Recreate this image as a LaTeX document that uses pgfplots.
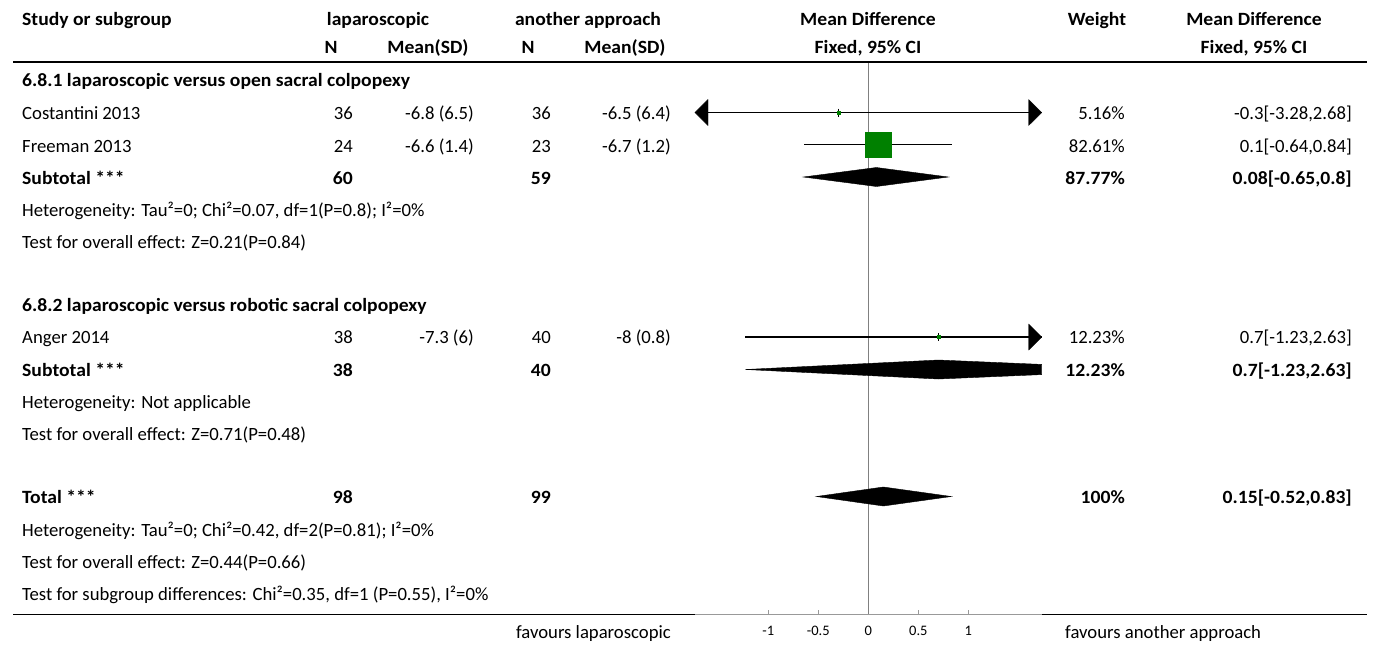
\documentclass[border=0pt]{standalone}
\usepackage{pgfplots}
\pgfplotsset{compat=1.18}
\usepackage{fontspec}
\setmainfont{Carlito}[BoldFeatures={FakeStretch=1.05}]
\definecolor{rmgreen}{RGB}{0,128,0}
\newcommand{\fs}{\fontsize{18.7}{22}\selectfont}
\protected\def\tfs{\fontsize{14.5}{17}\selectfont}
\tikzset{t/.style={font=\fs, inner sep=0pt, yshift=-4.3pt},
         b/.style={font=\fs\bfseries, inner sep=0pt, yshift=-4.3pt}}
\begin{document}
\begin{tikzpicture}
% ---------- canvas axis (pixel coordinates, y downward) ----------
\begin{axis}[name=canvas, at={(0pt,0pt)}, anchor=south west,
  scale only axis, width=1375pt, height=646pt,
  xmin=0, xmax=1375, ymin=0, ymax=646, y dir=reverse,
  hide axis, clip=false]
\addplot[draw=none] coordinates {(0,0) (1375,646)};
% rules
\addplot[black, line width=1.8pt] coordinates {(13,62) (1367,62)};
\addplot[black, line width=1.5pt] coordinates {(13,614.5) (1367,614.5)};
% headers
\node[b, anchor=mid west] at (axis cs:22,19) {Study or subgroup};
\node[b, anchor=mid] at (axis cs:378,19) {laparoscopic};
\node[b, anchor=mid] at (axis cs:588,19) {another approach};
\node[b, anchor=mid] at (axis cs:868,19) {Mean Difference};
\node[b, anchor=mid] at (axis cs:1097,19) {Weight};
\node[b, anchor=mid] at (axis cs:1254,19) {Mean Difference};
\node[b, anchor=mid] at (axis cs:331,47) {N};
\node[b, anchor=mid] at (axis cs:428,47) {Mean(SD)};
\node[b, anchor=mid] at (axis cs:528,47) {N};
\node[b, anchor=mid] at (axis cs:625,47) {Mean(SD)};
\node[b, anchor=mid] at (axis cs:868,47) {Fixed, 95\% CI};
\node[b, anchor=mid] at (axis cs:1254,47) {Fixed, 95\% CI};
% subgroup 1
\node[b, anchor=mid west] at (axis cs:22,80) {6.8.1 laparoscopic versus open sacral colpopexy};
\node[t, anchor=mid west] at (axis cs:22,113) {Costantini 2013};
\node[t, anchor=mid east] at (axis cs:353,113) {36};
\node[t, anchor=mid east] at (axis cs:474,113) {-6.8 (6.5)};
\node[t, anchor=mid east] at (axis cs:551,113) {36};
\node[t, anchor=mid east] at (axis cs:671,113) {-6.5 (6.4)};
\node[t, anchor=mid east] at (axis cs:1125,113) {5.16\%};
\node[t, anchor=mid east] at (axis cs:1352,113) {-0.3[-3.28,2.68]};
\node[t, anchor=mid west] at (axis cs:22,146) {Freeman 2013};
\node[t, anchor=mid east] at (axis cs:353,146) {24};
\node[t, anchor=mid east] at (axis cs:474,146) {-6.6 (1.4)};
\node[t, anchor=mid east] at (axis cs:551,146) {23};
\node[t, anchor=mid east] at (axis cs:671,146) {-6.7 (1.2)};
\node[t, anchor=mid east] at (axis cs:1125,146) {82.61\%};
\node[t, anchor=mid east] at (axis cs:1352,146) {0.1[-0.64,0.84]};
\node[b, anchor=mid west] at (axis cs:22,178) {Subtotal ***};
\node[b, anchor=mid east] at (axis cs:353,178) {60};
\node[b, anchor=mid east] at (axis cs:551,178) {59};
\node[b, anchor=mid east] at (axis cs:1125,178) {87.77\%};
\node[b, anchor=mid east] at (axis cs:1352,178) {0.08[-0.65,0.8]};
\node[t, anchor=mid west] at (axis cs:22,210) {Heterogeneity: Tau²=0; Chi²=0.07, df=1(P=0.8); I²=0\%};
\node[t, anchor=mid west] at (axis cs:22,242) {Test for overall effect: Z=0.21(P=0.84)};
% subgroup 2
\node[b, anchor=mid west] at (axis cs:22,305) {6.8.2 laparoscopic versus robotic sacral colpopexy};
\node[t, anchor=mid west] at (axis cs:22,337) {Anger 2014};
\node[t, anchor=mid east] at (axis cs:353,337) {38};
\node[t, anchor=mid east] at (axis cs:474,337) {-7.3 (6)};
\node[t, anchor=mid east] at (axis cs:551,337) {40};
\node[t, anchor=mid east] at (axis cs:671,337) {-8 (0.8)};
\node[t, anchor=mid east] at (axis cs:1125,337) {12.23\%};
\node[t, anchor=mid east] at (axis cs:1352,337) {0.7[-1.23,2.63]};
\node[b, anchor=mid west] at (axis cs:22,370) {Subtotal ***};
\node[b, anchor=mid east] at (axis cs:353,370) {38};
\node[b, anchor=mid east] at (axis cs:551,370) {40};
\node[b, anchor=mid east] at (axis cs:1125,370) {12.23\%};
\node[b, anchor=mid east] at (axis cs:1352,370) {0.7[-1.23,2.63]};
\node[t, anchor=mid west] at (axis cs:22,402) {Heterogeneity: Not applicable};
\node[t, anchor=mid west] at (axis cs:22,434) {Test for overall effect: Z=0.71(P=0.48)};
% total
\node[b, anchor=mid west] at (axis cs:22,497) {Total ***};
\node[b, anchor=mid east] at (axis cs:353,497) {98};
\node[b, anchor=mid east] at (axis cs:551,497) {99};
\node[b, anchor=mid east] at (axis cs:1125,497) {100\%};
\node[b, anchor=mid east] at (axis cs:1352,497) {0.15[-0.52,0.83]};
\node[t, anchor=mid west] at (axis cs:22,530) {Heterogeneity: Tau²=0; Chi²=0.42, df=2(P=0.81); I²=0\%};
\node[t, anchor=mid west] at (axis cs:22,562) {Test for overall effect: Z=0.44(P=0.66)};
\node[t, anchor=mid west] at (axis cs:22,594) {Test for subgroup differences: Chi²=0.35, df=1 (P=0.55), I²=0\%};
\node[t, anchor=mid east] at (axis cs:671,632) {favours laparoscopic};
\node[t, anchor=mid west] at (axis cs:1065,632) {favours another approach};
\end{axis}
% ---------- forest plot axis ----------
\begin{axis}[at={(695pt,31.5pt)}, anchor=south west,
  scale only axis, width=346.7pt, height=552.5pt,
  xmin=-1.733, xmax=1.733, ymin=62, ymax=614.5, y dir=reverse,
  axis y line=none, axis x line*=bottom,
  x axis line style={draw=gray!80, line width=1pt, -},
  xtick={-1,-0.5,0,0.5,1},
  xticklabels={{\tfs -1},{\tfs -0.5},{\tfs 0},{\tfs 0.5},{\tfs 1}},
  tick align=inside, major tick length=5pt,
  tick style={gray!80, line width=0.8pt},
  xticklabel style={anchor=base, yshift=-21pt, inner sep=0pt},
  clip=false]
% line of no effect
\addplot[gray, line width=0.8pt] coordinates {(0,63) (0,614)};
% Costantini 2013: -0.3 [-3.28, 2.68] (truncated both sides)
\addplot[black, line width=1.3pt] coordinates {(-1.733,112.5) (1.733,112.5)};
\addplot[fill=black, draw=black] coordinates {(-1.733,112.5) (-1.603,99.5) (-1.603,125.5)} -- cycle;
\addplot[fill=black, draw=black] coordinates {(1.733,112.5) (1.603,99.5) (1.603,125.5)} -- cycle;
\addplot[only marks, mark=square*, mark size=1.6pt, mark options={fill=rmgreen, draw=rmgreen}] coordinates {(-0.3,112.5)};
\addplot[black, line width=1pt] coordinates {(-0.3,108.5) (-0.3,116.5)};
% Freeman 2013: 0.1 [-0.64, 0.84]
\addplot[black, line width=1.3pt] coordinates {(-0.64,144.5) (0.84,144.5)};
\addplot[only marks, mark=square*, mark size=12.8pt, mark options={fill=rmgreen, draw=rmgreen}] coordinates {(0.1,144.5)};
\addplot[black, line width=1.3pt] coordinates {(-0.64,144.5) (0.84,144.5)};
\addplot[black, line width=1pt] coordinates {(0.1,140) (0.1,149)};
% Subtotal 1: 0.08 [-0.65, 0.8]
\addplot[fill=black, draw=black] coordinates {(-0.65,177) (0.08,167.5) (0.8,177) (0.08,186.5)} -- cycle;
% Anger 2014: 0.7 [-1.23, 2.63] (truncated right)
\addplot[black, line width=1.3pt] coordinates {(-1.23,337) (1.733,337)};
\addplot[fill=black, draw=black] coordinates {(1.733,337) (1.603,324) (1.603,350)} -- cycle;
\addplot[only marks, mark=square*, mark size=1.6pt, mark options={fill=rmgreen, draw=rmgreen}] coordinates {(0.7,337)};
\addplot[black, line width=1pt] coordinates {(0.7,333) (0.7,341)};
% Subtotal 2: 0.7 [-1.23, 2.63] (truncated right)
\addplot[fill=black, draw=black] coordinates {(-1.23,369.5) (0.7,360) (1.733,364.4) (1.733,374.6) (0.7,379)} -- cycle;
% Total: 0.15 [-0.52, 0.83]
\addplot[fill=black, draw=black] coordinates {(-0.52,496.5) (0.15,487) (0.83,496.5) (0.15,506)} -- cycle;
\end{axis}
\pgfresetboundingbox
\path (canvas.south west) rectangle (canvas.north east);
\end{tikzpicture}
\end{document}
